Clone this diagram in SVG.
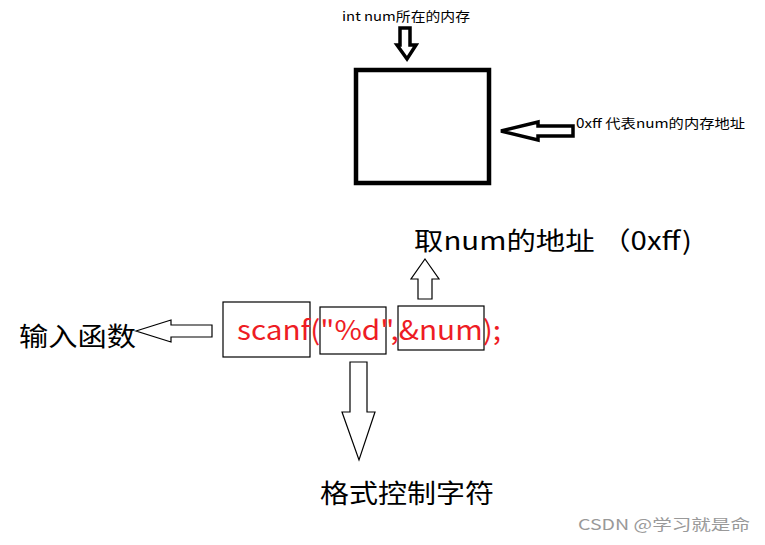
<svg xmlns="http://www.w3.org/2000/svg" width="765" height="545" viewBox="0 0 765 545">
<style>
text{font-family:"Microsoft YaHei","Noto Sans CJK SC",sans-serif;fill:#000}
.thin{fill:#fff;stroke:#000;stroke-width:1.2}
.bold{fill:#fff;stroke:#000;stroke-width:3.5}
.red{fill:#ee1c24}
</style>
<rect width="765" height="545" fill="#fff"/>
<g id="memory"><rect x="356" y="70" width="133" height="113" fill="#fff" stroke="#000" stroke-width="4.5"/></g>
<g id="connectors">
<polygon class="bold" points="400,28 410,28 410,45 416,45 407,59 397,45 400,45"/>
<polygon class="bold" points="501,131 538,122 538,126 573,126 573,136 538,136 538,140"/>
<polygon class="thin" points="425,259 439,279 432,279 432,299 418,299 418,279 411,279"/>
<polygon class="thin" points="350,362 367,362 367,412 375,412 359,460 342,412 350,412"/>
<polygon class="thin" points="136,331 171,320 171,325 212,325 212,337 171,337 171,342"/>
</g>
<g id="label-mem"><text x="342" y="21" font-size="13" textLength="128" lengthAdjust="spacingAndGlyphs">int num所在的内存</text></g>
<g id="label-addr"><text x="576" y="128" font-size="13" textLength="169" lengthAdjust="spacingAndGlyphs">0xff  代表num的内存地址</text></g>
<g id="code">
<rect class="thin" x="223" y="302" width="87" height="55"/>
<rect class="thin" x="320" y="307" width="66" height="47"/>
<rect class="thin" x="398" y="306" width="86" height="44"/>
<text x="237" y="340" font-size="27" class="red" textLength="264" lengthAdjust="spacingAndGlyphs">scanf("%d",&amp;num);</text>
</g>
<g id="label-input"><text x="19" y="346" font-size="26" textLength="117" lengthAdjust="spacingAndGlyphs">输入函数</text></g>
<g id="label-take"><text x="414" y="250" font-size="25" textLength="278" lengthAdjust="spacingAndGlyphs">取num的地址 （0xff)</text></g>
<g id="label-fmt"><text x="320" y="503" font-size="26" textLength="174" lengthAdjust="spacingAndGlyphs">格式控制字符</text></g>
<text x="578" y="530" font-size="15" style="fill:#999" textLength="172" lengthAdjust="spacingAndGlyphs">CSDN @学习就是命</text>
</svg>
